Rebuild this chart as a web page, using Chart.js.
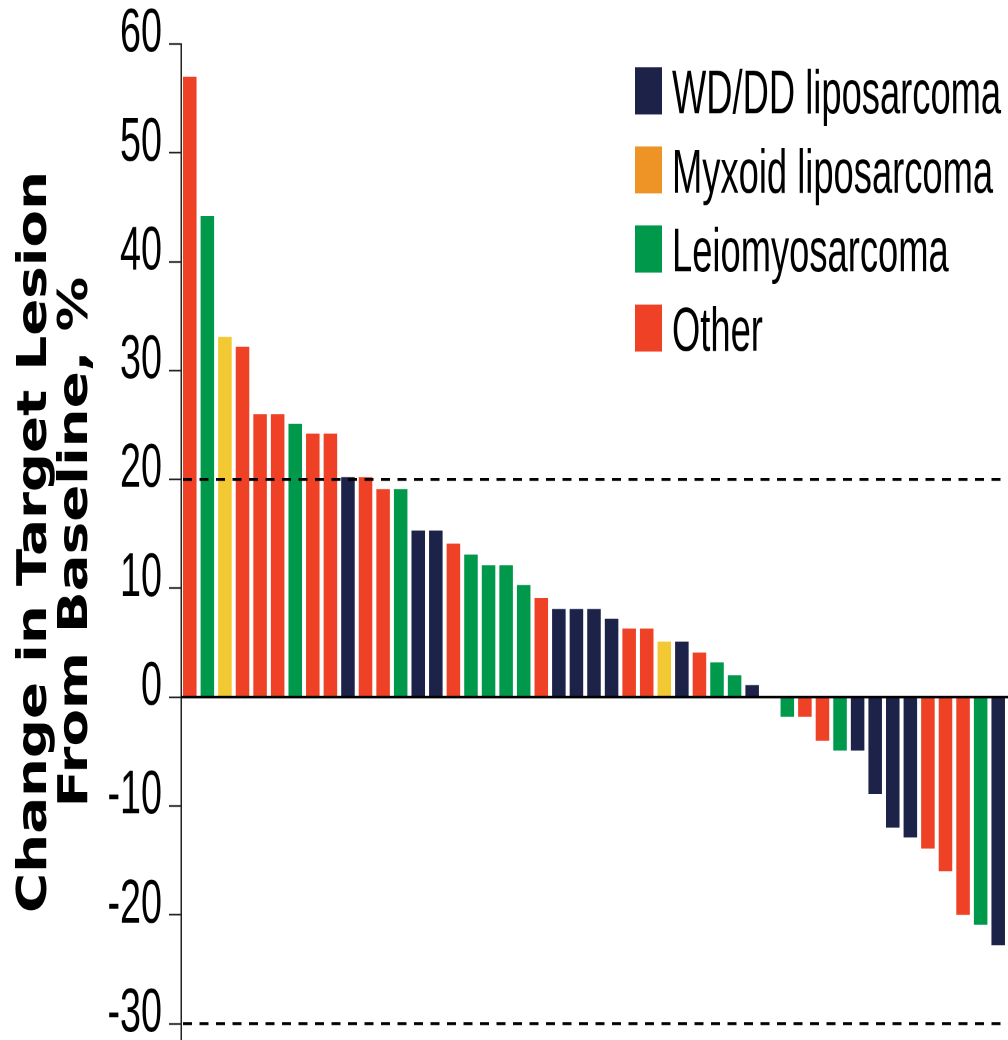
<!DOCTYPE html>
<html>
<head>
<meta charset="utf-8">
<script src="https://cdn.jsdelivr.net/npm/chart.js@4.4.1/dist/chart.umd.min.js"></script>
<style>
  html, body { margin: 0; padding: 0; background: #ffffff; }
  #frame { position: relative; width: 1008px; height: 1040px; overflow: hidden; background: #fff; }
  #stretch { position: absolute; left: 0; top: 0; width: 1008px; height: 780px;
             transform: scaleY(1.333333); transform-origin: 0 0; }
</style>
</head>
<body>
<div id="frame"><div id="stretch"><canvas id="c" width="1008" height="780"></canvas></div></div>
<script>
// ---------------- data ----------------
const histologyTypes = ['WD/DD liposarcoma', 'Myxoid liposarcoma', 'Leiomyosarcoma', 'Other'];

const patients = [
  '1','2','3','4','5','6','7','8','9','10','11','12','13','14','15','16','17','18','19','20',
  '21','22','23','24','25','26','27','28','29','30','31','32','33','34','35','36','37','38','39','40',
  '41','42','43','44','45','46','47'
];

const changeFromBaseline = [
  57.0, 44.2, 33.1, 32.2, 26.0, 26.0, 25.1, 24.2, 24.2, 20.2,
  20.2, 19.1, 19.1, 15.3, 15.3, 14.1, 13.1, 12.1, 12.1, 10.3,
  9.1, 8.1, 8.1, 8.1, 7.2, 6.3, 6.3, 5.1, 5.1, 4.1,
  3.2, 2.0, 1.1, null, -1.8, -1.8, -4.0, -4.9, -4.9, -8.9,
  -12.0, -12.9, -13.9, -16.0, -20.0, -20.9, -22.8
];

const histology = [
  'Other', 'Leiomyosarcoma', 'Myxoid liposarcoma', 'Other', 'Other', 'Other', 'Leiomyosarcoma', 'Other', 'Other', 'WD/DD liposarcoma',
  'Other', 'Other', 'Leiomyosarcoma', 'WD/DD liposarcoma', 'WD/DD liposarcoma', 'Other', 'Leiomyosarcoma', 'Leiomyosarcoma', 'Leiomyosarcoma', 'Leiomyosarcoma',
  'Other', 'WD/DD liposarcoma', 'WD/DD liposarcoma', 'WD/DD liposarcoma', 'WD/DD liposarcoma', 'Other', 'Other', 'Myxoid liposarcoma', 'WD/DD liposarcoma', 'Other',
  'Leiomyosarcoma', 'Leiomyosarcoma', 'WD/DD liposarcoma', null, 'Leiomyosarcoma', 'Other', 'Other', 'Leiomyosarcoma', 'WD/DD liposarcoma', 'WD/DD liposarcoma',
  'WD/DD liposarcoma', 'WD/DD liposarcoma', 'Other', 'Other', 'Other', 'Leiomyosarcoma', 'WD/DD liposarcoma'
];

const yTickValues = [-30, -20, -10, 0, 10, 20, 30, 40, 50, 60];
const referenceLines = [20, -30];
const axisTitle = ['Change in Target Lesion', 'From Baseline, %'];

// ---------------- styles ----------------
const barColors    = ['#1D2248', '#F2C932', '#00994C', '#EE4125'];
const legendColors = ['#1D2248', '#EE9427', '#00994C', '#EE4125'];
const labelFont = "'Liberation Sans', Arial, Helvetica, sans-serif";

const datasets = histologyTypes.map((type, k) => ({
  label: type,
  data: changeFromBaseline.map((v, i) => histology[i] === type ? v : null),
  backgroundColor: barColors[k],
  borderWidth: 0,
  barPercentage: 0.77,
  categoryPercentage: 1.0
}));

// reference lines (20 %, -30 %) and the zero line, placed by the y scale
const refLinePlugin = {
  id: 'refLines',
  afterDatasetsDraw(chart) {
    const ctx = chart.ctx;
    const y = chart.scales.y;
    const { left, right } = chart.chartArea;
    ctx.save();
    ctx.strokeStyle = '#000';
    ctx.lineWidth = 2.2;
    ctx.setLineDash([9, 7.5]);
    referenceLines.forEach(v => {
      const py = y.getPixelForValue(v);
      ctx.beginPath();
      ctx.moveTo(left + 2, py);
      ctx.lineTo(right + 2, py);
      ctx.stroke();
    });
    ctx.setLineDash([]);
    ctx.lineWidth = 1.9;
    const p0 = y.getPixelForValue(0);
    ctx.beginPath();
    ctx.moveTo(left, p0);
    ctx.lineTo(right + 2, p0);
    ctx.stroke();
    ctx.restore();
  }
};

// condensed tick labels, one per tick of the y scale
const condensedTicksPlugin = {
  id: 'condensedTicks',
  afterDraw(chart) {
    const ctx = chart.ctx;
    const y = chart.scales.y;
    const xRight = y.right - 12 - 7;
    ctx.save();
    ctx.font = '46px ' + labelFont;
    ctx.fillStyle = '#000';
    ctx.textAlign = 'right';
    ctx.textBaseline = 'middle';
    y.ticks.forEach(t => {
      const py = y.getPixelForValue(t.value) - 7;
      ctx.save();
      ctx.translate(xRight, py);
      ctx.scale(0.82, 1);
      ctx.fillText(String(t.value), 0, 0);
      ctx.restore();
    });
    ctx.restore();
  }
};

// legend inside the plot area, top right
const legendPlugin = {
  id: 'insideLegend',
  afterDraw(chart) {
    const ctx = chart.ctx;
    const x0 = chart.chartArea.right - 372;
    const top = 50.5;
    const pitch = 59.3;
    const sw = 27, sh = 35.3;
    ctx.save();
    ctx.font = '46px ' + labelFont;
    ctx.textBaseline = 'alphabetic';
    ctx.textAlign = 'left';
    chart.data.datasets.forEach((ds, i) => {
      const y = top + i * pitch;
      ctx.fillStyle = legendColors[i];
      ctx.fillRect(x0, y, sw, sh);
      ctx.fillStyle = '#000';
      ctx.save();
      ctx.translate(x0 + sw + 10, y + sh - 0.8);
      ctx.scale(0.79, 1);
      ctx.fillText(ds.label, 0, 0);
      ctx.restore();
    });
    ctx.restore();
  }
};

new Chart(document.getElementById('c'), {
  type: 'bar',
  data: { labels: patients, datasets },
  plugins: [refLinePlugin, condensedTicksPlugin, legendPlugin],
  options: {
    responsive: false,
    animation: false,
    devicePixelRatio: 2,
    layout: { autoPadding: false, padding: { top: 33, right: 1, bottom: 0, left: 0 } },
    plugins: { legend: { display: false }, tooltip: { enabled: false } },
    scales: {
      x: { display: false, stacked: true, offset: true },
      y: {
        stacked: true,
        min: -31.5,
        max: 60,
        afterFit: (scale) => {
          scale.width = 181;
          scale.paddingTop = 0;
          scale.paddingBottom = 0;
        },
        afterBuildTicks: (scale) => {
          scale.ticks = yTickValues.map(v => ({ value: v }));
        },
        border: { display: true, color: '#222', width: 1.5 },
        grid: {
          drawOnChartArea: false,
          drawTicks: true,
          tickLength: 12,
          tickColor: '#222',
          tickWidth: 1.3
        },
        ticks: {
          display: false,
          padding: 7
        },
        title: {
          display: true,
          text: axisTitle,
          color: '#000',
          padding: { top: 15, bottom: 0 },
          font: { family: "'DejaVu Sans', 'Liberation Sans', Arial, sans-serif", weight: 'bold', size: 41, lineHeight: 1.0 }
        }
      }
    }
  }
});
</script>
</body>
</html>
